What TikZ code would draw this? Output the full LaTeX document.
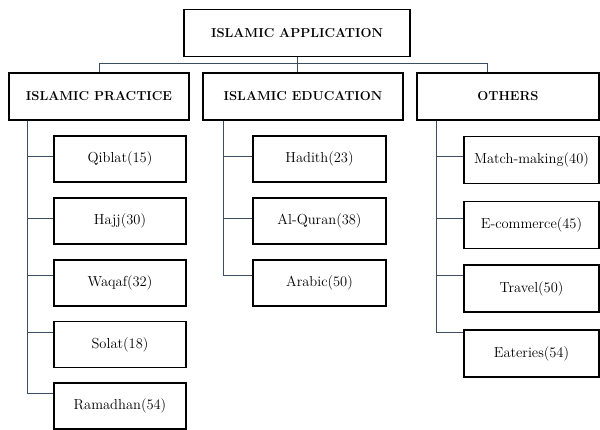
\documentclass[tikz,border=0pt]{standalone}
\usepackage{fontspec}
\usepackage{tikz}
\definecolor{linkgray}{RGB}{62,78,98}

\begin{document}
\begin{tikzpicture}[x=1pt,y=-1pt,
        box/.style={draw,line width=1.2pt,rectangle,inner sep=0pt,
            minimum height=46pt,font=\fontsize{14.5}{17}\selectfont},
        head/.style={box,minimum height=47pt,font=\bfseries\fontsize{13}{15}\selectfont},
        link/.style={draw=linkgray,line width=0.8pt}]
        \useasboundingbox (0,0) rectangle (600,430);
        % levels 1 and 2
        \node[head,minimum width=226pt] (app) at (297,33) {ISLAMIC APPLICATION};
        \node[head,minimum width=180pt] (prac) at (99,96.5) {ISLAMIC PRACTICE};
        \node[head,minimum width=200pt] (edu) at (303,96.5) {ISLAMIC EDUCATION};
        \node[head,minimum width=182pt] (oth) at (508,96.5) {OTHERS};
        \coordinate (bus) at ([yshift=-6pt]app.south);
        \draw[link] (app.south) -- (bus);
        \draw[link] (prac.north) |- (bus) -| ([xshift=-21pt]oth.north);
        \draw[link] (bus) -- (bus |- edu.north);
        % islamic practice
        \foreach \n/\t/\y/\o in {qiblat/Qiblat(15)/159/3,hajj/Hajj(30)/221/3,
            waqaf/Waqaf(32)/283/8,solat/Solat(18)/344.5/12.5,ramadhan/Ramadhan(54)/406/13}{
            \node[box,minimum width=132pt] (\n) at (120,\y) {\t};
            \draw[link] ([xshift=19pt]prac.south west) |- ([yshift=\o pt]\n.west);
        }
        % islamic education
        \foreach \n/\t/\y/\o in {hadith/Hadith(23)/159/3,quran/Al-Quran(38)/221/3,
            arabic/Arabic(50)/283/8}{
            \node[box,minimum width=133pt] (\n) at (319.5,\y) {\t};
            \draw[link] ([xshift=21pt]edu.south west) |- ([yshift=\o pt]\n.west);
        }
        % others
        \foreach \n/\t/\y/\o in {match/Match-making(40)/160/4,ecom/E-commerce(45)/225/7,
            travel/Travel(50)/288.5/13.5,eat/Eateries(54)/353.5/21.5}{
            \node[box,minimum width=135pt,minimum height=47pt] (\n) at (531.5,\y) {\t};
            \draw[link] ([xshift=20pt]oth.south west) |- ([yshift=\o pt]\n.west);
        }
    \end{tikzpicture}
\end{document}
